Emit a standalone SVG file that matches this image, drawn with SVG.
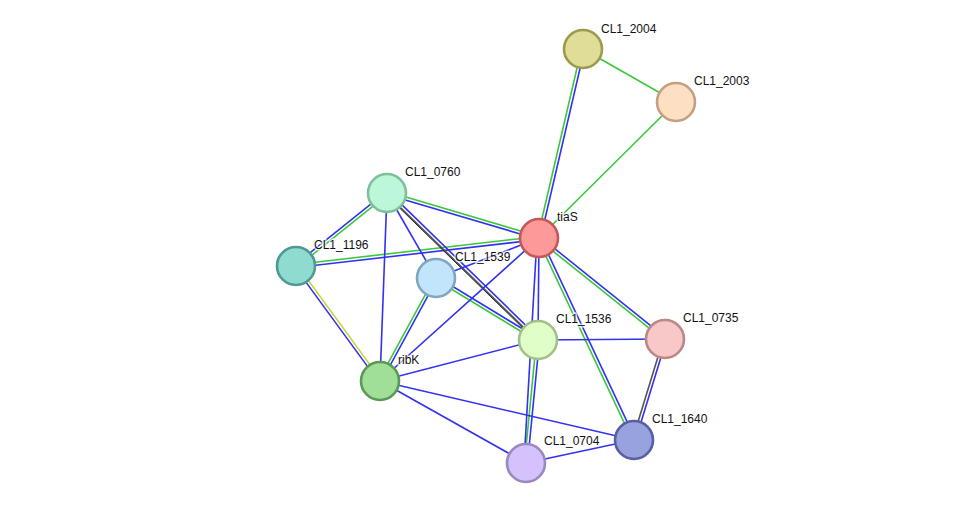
<svg xmlns="http://www.w3.org/2000/svg" width="976" height="508" viewBox="0 0 976 508">
<style>
.e line{stroke-width:1.6;fill:none}
.g{stroke:#3cc83c}
.b{stroke:#3232f0}
.y{stroke:#c8d232}
.k{stroke:#555555}
.n circle{stroke-width:2.6}
.n text{font-family:"Liberation Sans",Arial,sans-serif;font-size:12px;fill:#111;stroke:#fff;stroke-width:3;stroke-opacity:0.7;paint-order:stroke}
</style>
<rect width="976" height="508" fill="#fff"/>
<g id="connectors" class="e">
<line class="g" x1="583" y1="49" x2="676" y2="102"/>
<line class="g" x1="676" y1="102" x2="539" y2="238"/>
<line class="g" x1="581.5" y1="48.7" x2="537.5" y2="237.7"/>
<line class="b" x1="584.5" y1="49.3" x2="540.5" y2="238.3"/>
<line class="g" x1="387.4" y1="191.6" x2="539.4" y2="236.6"/>
<line class="b" x1="386.6" y1="194.4" x2="538.6" y2="239.4"/>
<line class="b" x1="386.1" y1="191.8" x2="295.1" y2="264.8"/>
<line class="g" x1="387.9" y1="194.2" x2="296.9" y2="267.2"/>
<line class="g" x1="295.8" y1="264.5" x2="538.8" y2="236.5"/>
<line class="b" x1="296.2" y1="267.5" x2="539.2" y2="239.5"/>
<line class="y" x1="297.2" y1="265.1" x2="381.2" y2="380.1"/>
<line class="b" x1="294.8" y1="266.9" x2="378.8" y2="381.9"/>
<line class="b" x1="436.8" y1="276.7" x2="538.8" y2="338.7"/>
<line class="g" x1="435.2" y1="279.3" x2="537.2" y2="341.3"/>
<line class="g" x1="434.7" y1="277.3" x2="378.7" y2="380.3"/>
<line class="b" x1="437.3" y1="278.7" x2="381.3" y2="381.7"/>
<line class="g" x1="538.1" y1="239.2" x2="664.1" y2="340.2"/>
<line class="b" x1="539.9" y1="236.8" x2="665.9" y2="337.8"/>
<line class="g" x1="537.6" y1="238.6" x2="632.6" y2="440.6"/>
<line class="b" x1="540.4" y1="237.4" x2="635.4" y2="439.4"/>
<line class="g" x1="536.5" y1="339.85" x2="524.5" y2="462.85"/>
<line class="b" x1="539.5" y1="340.15" x2="527.5" y2="463.15"/>
<line class="b" x1="388.4" y1="191.6" x2="539.4" y2="338.6"/>
<line class="k" x1="386.3" y1="193.7" x2="537.3" y2="340.7"/>
<line class="k" x1="385.6" y1="194.4" x2="536.6" y2="341.4" style="stroke:#222;stroke-width:1"/>
<line class="k" x1="663.6" y1="338.6" x2="632.6" y2="439.6"/>
<line class="b" x1="666.4" y1="339.4" x2="635.4" y2="440.4"/>
<line class="b" x1="387" y1="193" x2="380" y2="381"/>
<line class="b" x1="387" y1="193" x2="436" y2="278"/>
<line class="b" x1="436" y1="278" x2="539" y2="238"/>
<line class="b" x1="539" y1="238" x2="380" y2="381"/>
<line class="b" x1="539" y1="238" x2="538" y2="340"/>
<line class="b" x1="537" y1="238" x2="524" y2="463"/>
<line class="b" x1="538" y1="340" x2="665" y2="339"/>
<line class="b" x1="538" y1="340" x2="380" y2="381"/>
<line class="b" x1="380" y1="381" x2="634" y2="440"/>
<line class="b" x1="380" y1="381" x2="526" y2="463"/>
<line class="b" x1="526" y1="463" x2="634" y2="440"/>
</g>
<g id="CL1_2004" class="n"><circle cx="583" cy="49" r="19" fill="#dfdd98" stroke="#9c9a4f"/><text x="601" y="33">CL1_2004</text></g>
<g id="CL1_2003" class="n"><circle cx="676" cy="102" r="19" fill="#fddfc4" stroke="#c2a080"/><text x="694" y="85">CL1_2003</text></g>
<g id="tiaS" class="n"><circle cx="539" cy="238" r="19" fill="#fc9a9a" stroke="#c45757"/><text x="557" y="221">tiaS</text></g>
<g id="CL1_0760" class="n"><circle cx="387" cy="193" r="19" fill="#bdf7d9" stroke="#7fbf9a"/><text x="405" y="176">CL1_0760</text></g>
<g id="CL1_1196" class="n"><circle cx="296" cy="266" r="19" fill="#8fdbcf" stroke="#4e9a90"/><text x="314" y="249">CL1_1196</text></g>
<g id="CL1_1539" class="n"><circle cx="436" cy="278" r="19" fill="#c2e5fb" stroke="#7fa8c0"/><text x="455" y="261">CL1_1539</text></g>
<g id="CL1_1536" class="n"><circle cx="538" cy="340" r="19" fill="#e0fec7" stroke="#a3c08a"/><text x="556" y="323">CL1_1536</text></g>
<g id="CL1_0735" class="n"><circle cx="665" cy="339" r="19" fill="#f8c8c8" stroke="#bb8888"/><text x="683" y="322">CL1_0735</text></g>
<g id="ribK" class="n"><circle cx="380" cy="381" r="19" fill="#a0df98" stroke="#5a9a56"/><text x="398" y="364">ribK</text></g>
<g id="CL1_1640" class="n"><circle cx="634" cy="440" r="19" fill="#98a2df" stroke="#56609e"/><text x="652" y="423">CL1_1640</text></g>
<g id="CL1_0704" class="n"><circle cx="526" cy="463" r="19" fill="#d3c2fc" stroke="#9a88c2"/><text x="544" y="445">CL1_0704</text></g>
</svg>
